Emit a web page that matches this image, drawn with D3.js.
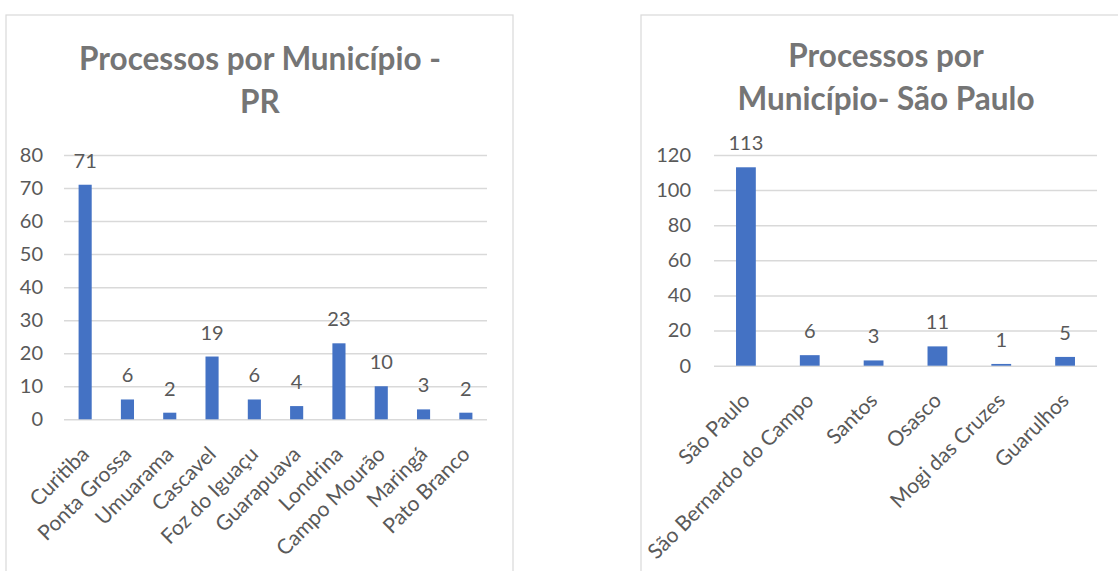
<!DOCTYPE html>
<html>
<head>
<meta charset="utf-8">
<script src="https://cdn.jsdelivr.net/npm/d3@7"></script>
<style>
  html, body { margin: 0; padding: 0; background: #fff; }
  svg { display: block; font-family: Lato, "Open Sans", sans-serif; }
</style>
</head>
<body>
<svg id="chart" width="1118" height="571"></svg>
<script>
// Paraná
const prTitle = ["Processos por Município -", "PR"];
const prCities = ["Curitiba", "Ponta Grossa", "Umuarama", "Cascavel", "Foz do Iguaçu",
                  "Guarapuava", "Londrina", "Campo Mourão", "Maringá", "Pato Branco"];
const prCounts = [71, 6, 2, 19, 6, 4, 23, 10, 3, 2];
const prTicks = [0, 10, 20, 30, 40, 50, 60, 70, 80];

// São Paulo
const spTitle = ["Processos por", "Município- São Paulo"];
const spCities = ["São Paulo", "São Bernardo do Campo", "Santos", "Osasco", "Mogi das Cruzes", "Guarulhos"];
const spCounts = [113, 6, 3, 11, 1, 5];
const spTicks = [0, 20, 40, 60, 80, 100, 120];

const svg = d3.select("#chart");
const BAR = "#4472c4", GRID = "#d9d9d9", TEXT = "#595959", TITLE = "#757575";

function drawPanel(opt) {
  const g = svg.append("g");
  // chart frame
  g.append("rect")
    .attr("x", opt.frame[0]).attr("y", opt.frame[1])
    .attr("width", opt.frame[2]).attr("height", opt.frame[3])
    .attr("fill", "#fff").attr("stroke", GRID).attr("stroke-width", 1.2);

  // title
  const t = g.append("text")
    .attr("text-anchor", "middle")
    .attr("fill", TITLE)
    .attr("font-weight", 700)
    .attr("font-size", opt.titleSize);
  opt.title.forEach((line, i) => {
    t.append("tspan").attr("x", opt.titleX).attr("y", opt.titleY + i * opt.titleGap).text(line);
  });

  const x = d3.scaleBand().domain(opt.cats).range([opt.left, opt.right]).paddingInner(0.69).paddingOuter(0.345);
  const y = d3.scaleLinear().domain([0, d3.max(opt.ticks)]).range([opt.bottom, opt.top]);

  // gridlines + tick labels
  const yAxis = d3.axisLeft(y).tickValues(opt.ticks).tickSize(-(opt.right - opt.left)).tickPadding(opt.tickPad);
  const ya = g.append("g").attr("transform", `translate(${opt.left},0)`).call(yAxis);
  ya.select(".domain").remove();
  ya.selectAll(".tick line").attr("stroke", GRID).attr("stroke-width", 1.5);
  ya.selectAll(".tick text").attr("fill", TEXT).attr("font-size", 20).attr("font-family", "Lato, sans-serif");

  // bars
  g.selectAll("rect.bar").data(opt.vals).join("rect")
    .attr("class", "bar")
    .attr("x", (d, i) => x(opt.cats[i]))
    .attr("width", x.bandwidth())
    .attr("y", d => y(d))
    .attr("height", d => y(0) - y(d))
    .attr("fill", BAR);

  // value labels
  g.selectAll("text.val").data(opt.vals).join("text")
    .attr("class", "val")
    .attr("text-anchor", "middle")
    .attr("fill", TEXT).attr("font-size", 20)
    .attr("x", (d, i) => x(opt.cats[i]) + x.bandwidth() / 2)
    .attr("y", d => y(d) - 17)
    .text(d => d);

  // rotated category labels
  g.selectAll("text.cat").data(opt.cats).join("text")
    .attr("class", "cat")
    .attr("text-anchor", "end")
    .attr("fill", TEXT).attr("font-size", 21)
    .attr("dy", "0.35em")
    .attr("transform", d => `translate(${x(d) + x.bandwidth() / 2},${opt.bottom + 31}) rotate(-45)`)
    .text(d => d);
}

drawPanel({
  frame: [6, 15, 507, 600],
  title: prTitle, titleX: 260, titleY: 70, titleGap: 43, titleSize: 31.5,
  cats: prCities, vals: prCounts, ticks: prTicks,
  left: 64, right: 487, top: 155, bottom: 419.3, tickPad: 21
});

drawPanel({
  frame: [641, 15, 600, 600],
  title: spTitle, titleX: 886, titleY: 67, titleGap: 43, titleSize: 31.5,
  cats: spCities, vals: spCounts, ticks: spTicks,
  left: 714, right: 1097, top: 155, bottom: 365.7, tickPad: 23
});
</script>
</body>
</html>
